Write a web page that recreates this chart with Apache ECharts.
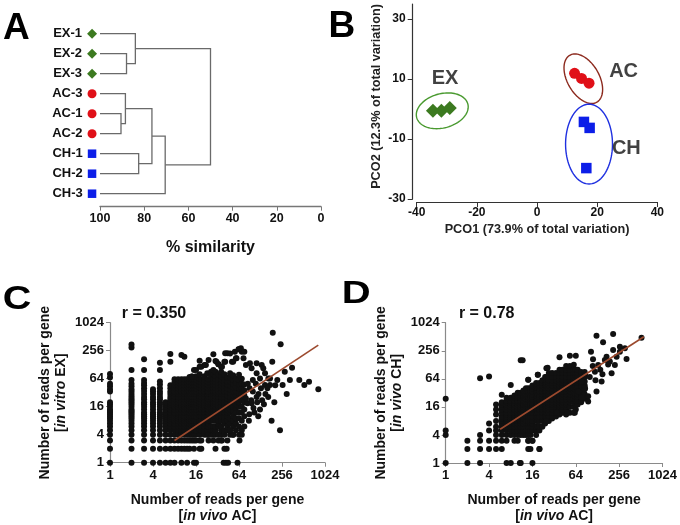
<!DOCTYPE html>
<html>
<head>
<meta charset="utf-8">
<script src="https://cdn.jsdelivr.net/npm/echarts@6/dist/echarts.min.js"></script>
<style>html,body{margin:0;padding:0;background:#fff}#c{width:680px;height:525px}</style>
</head>
<body>
<div id="c"></div>
<script>
// ---------- Panel A: dendrogram ----------
const leafNames = ['EX-1','EX-2','EX-3','AC-3','AC-1','AC-2','CH-1','CH-2','CH-3'];
const leafGroups = ['EX','EX','EX','AC','AC','AC','CH','CH','CH'];
// merges: [nodeA, nodeB, % similarity]; leaves 0-8, merged nodes 9+
const merges = [[1,2,88],[0,9,84],[4,5,90.5],[3,11,88.5],[6,7,82.5],[12,13,76.5],[14,8,70.5],[10,15,50]];
const leafMarkX = 103.6;

// ---------- Panel B: PCO ----------
const pcoEX = [[-34.6,-0.6],[-31.8,-0.6],[-29.0,0.3]];
const pcoAC = [[12.5,11.9],[14.8,10.2],[17.3,8.6]];
const pcoCH = [[15.6,-4.3],[17.5,-6.3],[16.4,-19.7]];
const pcoLabels = [['EX',-30.6,10.1],['AC',28.8,12.4],['CH',29.7,-13.1]];
// ellipse: [cx, cy, semi-axis a, semi-axis b, angle deg]
const pcoEllipses = [[-31.5,-0.6,8.8,5.7,15],[15.4,10.1,9,5.3,-60],[17.3,-11.7,7.8,13.3,0]];

// ---------- Panel C: in vivo AC vs in vitro EX ----------
const cCols = [
 [1,[1,2,3,4,5,6,7,8,9,10,11,12,13,14,16,18,20,34,38,44,50,68,81]],
 [2,[1,2,3,4,5,6,7,8,9,10,11,12,13,14,16,18,20,22,24,27,30,34,38,44,50,60,98,300,350]],
 [3,[1,2,3,4,5,6,7,8,9,10,11,12,14,16,18,20,23,26,30,35,40,46,52,60,98,167]],
 [4,[1,2,3,4,5,6,7,8,9,10,11,12,14,16,18,20,23,26,30,34,38]],
 [5,[1,2,3,4,5,6,7,8,9,10,11,12,14,16,18,20,23,26,30,34,40,48,56,98,141]],
 [6,[1,2,3,4,5,6,7,8,9,10,11,12,14,16,18,20]],
 [7,[1,2,3,4,5,6,7,8,9,10,11,12,14,16,18,20,23,26,30,34,40,46,148,217]],
 [8,[1,2,3,4,5,6,7,8,9,10,11,12,14,16,18,20,23,26,30,34,40,46,54,62]],
 [9,[2,3,4,5,6,7,8,9,10,11,12,14,16,18,20,23,26,30,34,40,46,54,62]],
 [10,[1,2,3,4,5,6,7,8,9,10,11,12,14,16,18,20,23,26,30,34,40,46,54,62,207]],
 [11,[2,3,4,5,6,7,8,9,10,12,14,16,18,20,23,26,30,34,40,46,54,62,190]],
 [12,[1,2,3,4,5,6,7,8,9,10,12,14,16,18,20,23,26,30,34,40,46,54,62]],
 [13,[2,3,4,5,6,7,8,9,10,12,14,16,18,20,23,26,30,34,40,46,54,62,70]],
 [14,[3,4,5,6,7,8,10,12,14,16,18,20,23,26,30,34,40,46,54,62,71]],
 [15,[1,2,3,4,5,6,7,8,10,12,14,16,18,20,23,26,30,34,40,46,54,62,98]],
 [16,[1,3,4,5,6,7,8,10,12,14,16,18,20,23,26,30,34,40,46,54,62,72]],
 [18,[2,3,4,5,6,7,8,10,12,14,16,18,20,23,26,30,34,40,46,54,62,80,156]],
 [19,[2,3,5,6,8,10,12,14,16,18,20,23,26,30,34,40,46,54,62,116]],
 [21,[4,5,6,7,8,10,12,14,16,18,20,23,26,30,34,40,46,54,62,72,126]],
 [23,[4,5,6,8,10,12,14,16,18,20,23,26,30,34,40,46,54,62,84]],
 [24,[3,4,6,7,8,10,12,14,16,18,20,23,26,30,34,40,46,54,62,162]],
 [26,[4,5,6,8,10,12,14,16,18,20,23,26,30,34,40,46,54,62,74,90]],
 [28,[3,4,5,6,8,10,12,14,16,18,20,23,26,30,34,40,46,54,62,80,98,214]],
 [30,[4,5,6,8,10,12,14,16,18,20,23,26,30,34,40,46,54,62,72,90,154]],
 [33,[3,4,6,7,8,10,12,14,16,18,20,23,26,30,34,40,46,54,62,80,131]],
 [36,[3,4,5,6,8,10,12,14,16,20,23,26,30,34,40,46,54,62,72,90,116]],
 [40,[2,4,5,7,8,10,12,14,16,20,23,26,30,34,40,46,54,62,80,148]],
 [44,[3,5,6,8,10,12,14,16,20,24,28,34,40,48,56,68,225]],
 [48,[4,5,7,9,12,14,18,22,26,32,38,46,56,68,84]],
 [53,[4,6,8,10,13,16,20,24,28,34,42,50,60,76,148]],
 [58,[5,7,9,12,15,18,22,28,34,42,52,64,176]],
 [64,[4,6,9,12,16,20,26,32,40,48,60,78,275]],
 [70,[5,8,12,16,22,30,40,50,64,244]],
 [76,[6,10,14,20,28,36,48]]
];
const cSparse = [[39,1],[42,1],[45,1],[61,1],[43,2],[30,2],[37,3],[65,3],[70,4],[53,4],[48,5],
 [190,624],[245,352],[826,38],[447,60],[526,47],[612,55],[354,110],[298,30],[240,5],[183,8],[187,148],
 [261,47],[206,46],[174,47],[148,47],[133,126],[113,137],[140,107],[174,65],[165,65],[126,65],[164,26],
 [113,26],[143,18],[126,14],[102,15],[119,10],[89,11],[96,19],[84,19],[80,24],[74,29],[148,84],[113,84],
 [80,126],[91,137],[96,107],[59,176],[74,176],[68,288],[76,243],[41,225],[41,148],[31,148],[51,148],
 [56,244],[63,275],[48,224],[33,131],[37,116],[22,126],[14,71],[16,98],[18,116],
 [90,40],[100,34],[110,50],[120,30],[95,22],[105,12],[88,8],[130,40],[100,60],[85,50],[115,20],
 [150,30],[160,40],[135,22],[200,20],[220,60],[280,90],[330,60]];
const trendC = [[8,3],[825,338]];

// ---------- Panel D: in vivo AC vs in vivo CH ----------
const dCols = [
 [1,[1,4,5,24]],
 [2,[1,2,3]],
 [3,[1,2,3,4,66]],
 [4,[2,3,5,7,72]],
 [5,[2,3,4,5,6,8,11,14,18]],
 [6,[2,3,4,5,6,7,8,9,10,12,14,16,18,20,29]],
 [7,[1,3,4,5,6,7,8,9,10,11,12,14,16,18,20,22,25]],
 [8,[1,4,5,6,7,8,9,10,11,12,14,16,18,20,22,25,47]],
 [9,[3,4,5,6,7,8,9,10,11,12,14,16,18,20,22,25,28]],
 [10,[3,4,5,6,7,8,9,10,11,12,14,16,18,20,22,25,28,32]],
 [11,[1,4,5,6,7,8,9,10,12,14,16,18,20,22,25,28,32,160]],
 [12,[4,5,6,7,8,9,10,12,14,16,18,20,22,25,28,32,36]],
 [13,[4,5,6,7,8,10,12,14,16,18,20,23,26,30,34,40]],
 [14,[2,3,4,5,6,7,8,10,12,14,16,18,20,23,26,30,34,40,61]],
 [15,[4,5,6,7,8,10,12,14,16,18,20,23,26,30,34,40]],
 [16,[1,3,5,6,7,8,10,12,14,16,18,20,23,26,30,34,40,46]],
 [18,[4,5,6,8,10,12,14,16,18,20,23,26,30,34,40,46,52]],
 [19,[6,8,10,12,14,16,18,20,23,26,30,34,40,46,78]],
 [20,[2,5,6,8,10,12,14,16,18,20,23,26,30,34,40,46,52]],
 [22,[6,8,10,12,14,16,18,20,23,26,30,34,40,46,52,60]],
 [24,[7,8,10,12,14,16,18,20,23,26,30,34,40,46,52,60,70]],
 [25,[8,10,12,14,16,18,20,23,26,30,34,40,46,52,60,70,108]],
 [27,[8,10,12,14,16,18,20,23,26,30,34,40,46,52,60,70,85]],
 [30,[9,10,12,14,16,18,20,23,26,30,34,40,46,52,60,70,85]],
 [34,[10,12,14,16,18,20,23,26,30,34,40,46,52,60,70,85]],
 [38,[11,12,14,16,18,20,23,26,30,34,40,46,52,60,70,85,100,186]],
 [42,[12,14,16,18,20,23,26,30,34,40,46,52,60,70,85,100]],
 [47,[11,14,16,18,20,23,26,30,34,40,46,52,60,70,85,100,120]],
 [53,[12,16,20,23,26,30,34,40,46,52,60,70,85,100,120,201]],
 [60,[12,16,20,24,28,34,40,46,52,60,70,85,100,128]],
 [64,[14,18,22,26,30,36,44,52,60,72,85,100,201]],
 [68,[18,22,26,30,36,44,52,60,72,85,100]],
 [76,[20,25,30,36,44,52,62,75,90]],
 [85,[24,30,38,46,56,70,90]]
];
const dSparse = [[124,540],[211,587],[523,488],[153,390],[262,313],[307,290],[211,267],[262,245],[236,191],
 [190,150],[171,191],[162,163],[324,171],[223,127],[201,84],[146,56],[118,91],[111,169],[131,127],[104,245],
 [95,27],[124,34],[95,21],[86,78],[77,56],[69,34],[86,40],[77,25],[26,111],[35,12],[49,12],[62,12],[25,8],
 [11.7,160],[19,78],[14,61],[15,2],[20,2],[14,3],[16,3],[10.7,1],[110,120],[140,100],[180,130],[100,70],
 [120,60],[150,80]];
const trendD = [[5.7,5.3],[564,512]];

// ---------- build ----------
const FF = '"Liberation Sans", Arial, sans-serif';
const nodes = leafNames.map((n,i)=>({y:i,h:100}));
const dendroData = merges.map(([a,b,h])=>{
  const A = nodes[a], B = nodes[b];
  nodes.push({y:(A.y+B.y)/2, h:h});
  return [h, A.y, A.h, B.y, B.h];
});
function flat(cols, sparse){
  const out=[]; cols.forEach(([x,ys])=>ys.forEach(y=>out.push([x,y])));
  sparse.forEach(p=>out.push(p)); return out;
}
const cData = flat(cCols, cSparse), dData = flat(dCols, dSparse);

const groupStyle = {
  EX:{symbol:'diamond', color:'#3c7a20'},
  AC:{symbol:'circle', color:'#e01018'},
  CH:{symbol:'rect', color:'#0c1ee8'}
};
const ellColors = ['#4a9a30','#8c2a1e','#1f30e0'];

function leafSeries(g, size){
  return {
    type:'scatter', xAxisIndex:0, yAxisIndex:0, clip:false, silent:true,
    symbol:groupStyle[g].symbol, symbolSize:size,
    itemStyle:{color:groupStyle[g].color, opacity:1},
    label:{show:true, position:'left', distance:5, formatter:'{b}', color:'#111',
      fontFamily:FF, fontWeight:'bold', fontSize:13},
    data: leafNames.map((n,i)=>({name:n, value:[leafMarkX,i]})).filter((d,i)=>leafGroups[i]===g)
  };
}
const logAxisCommon = (grid)=>({
  gridIndex:grid, type:'log', logBase:4, min:1, max:1024,
  axisLine:{show:true, onZero:false, lineStyle:{color:'#8a8a8a', width:1.2}},
  axisTick:{show:true, length:4, lineStyle:{color:'#8a8a8a'}},
  axisLabel:{margin:6, color:'#111', fontFamily:FF, fontWeight:'bold', fontSize:13,
    formatter:v=>String(Math.round(v))},
  splitLine:{show:false}
});
const nameStyle = {fontFamily:FF, fontWeight:'bold', fontSize:14, color:'#111', lineHeight:16,
  rich:{it:{fontFamily:FF, fontWeight:'bold', fontStyle:'italic', fontSize:14, color:'#111', lineHeight:16}}};

const option = {
  animation:false,
  backgroundColor:'#fff',
  grid:[
    {left:100, top:20.7, width:221, height:186},
    {left:416.7, top:4, width:240.6, height:195},
    {left:110, top:322.7, width:215, height:140},
    {left:445.7, top:322.7, width:217, height:140.6}
  ],
  xAxis:[
    {gridIndex:0, type:'value', min:0, max:100, interval:20, inverse:true,
     axisLine:{show:true, onZero:false, lineStyle:{color:'#777', width:1.3}},
     axisTick:{show:true, length:4, lineStyle:{color:'#777'}},
     axisLabel:{margin:5, color:'#111', fontFamily:FF, fontWeight:'bold', fontSize:12.5},
     splitLine:{show:false},
     name:'% similarity', nameLocation:'middle', nameGap:33,
     nameTextStyle:{fontFamily:FF, fontWeight:'bold', fontSize:16, color:'#111'}},
    {gridIndex:1, type:'value', min:-40, max:40, interval:20, offset:3,
     axisLine:{show:true, onZero:false, lineStyle:{color:'#333', width:1.2}},
     axisTick:{show:true, length:5, lineStyle:{color:'#333'}},
     axisLabel:{margin:5, color:'#111', fontFamily:FF, fontWeight:'bold', fontSize:12},
     splitLine:{show:false},
     name:'PCO1 (73.9% of total variation)', nameLocation:'middle', nameGap:21,
     nameTextStyle:{fontFamily:FF, fontWeight:'bold', fontSize:12.7, color:'#222'}},
    Object.assign(logAxisCommon(2), {name:'Number of reads per gene\n[{it|in vivo} AC]',
      nameLocation:'middle', nameGap:29, nameTextStyle:nameStyle}),
    Object.assign(logAxisCommon(3), {name:'Number of reads per gene\n[{it|in vivo} AC]',
      nameLocation:'middle', nameGap:29, nameTextStyle:nameStyle})
  ],
  yAxis:[
    {gridIndex:0, type:'value', min:-0.65, max:8.65, inverse:true, show:false},
    {gridIndex:1, type:'value', min:-30, max:35, interval:20, offset:4,
     axisLine:{show:true, onZero:false, lineStyle:{color:'#333', width:1.2}},
     axisTick:{show:true, length:5, lineStyle:{color:'#333'}, customValues:[-30,-10,10,30]},
     axisLabel:{margin:7, color:'#111', fontFamily:FF, fontWeight:'bold', fontSize:12,
       customValues:[-30,-10,10,30]},
     splitLine:{show:false},
     name:'PCO2 (12.3% of total variation)', nameLocation:'middle', nameGap:30, nameRotate:90,
     nameTextStyle:{fontFamily:FF, fontWeight:'bold', fontSize:12.7, color:'#222', padding:[0,0,0,10]}},
    Object.assign(logAxisCommon(2), {name:'Number of reads per gene\n[{it|in vitro} EX]',
      nameLocation:'middle', nameGap:41, nameRotate:90, nameTextStyle:nameStyle}),
    Object.assign(logAxisCommon(3), {name:'Number of reads per gene\n[{it|in vivo} CH]',
      nameLocation:'middle', nameGap:41, nameRotate:90, nameTextStyle:nameStyle})
  ],
  graphic:[
    {type:'text', x:3, y:28.3, style:{text:'A', fontSize:37, fontWeight:'bold', fontFamily:FF, fill:'#000',
      verticalAlign:'middle', textVerticalAlign:'middle'}},
    {type:'text', x:328.5, y:26.7, style:{text:'B', fontSize:37, fontWeight:'bold', fontFamily:FF, fill:'#000',
      verticalAlign:'middle', textVerticalAlign:'middle'}},
    {type:'text', x:2.7, y:300, scaleX:1.2, style:{text:'C', fontSize:33, fontWeight:'bold', fontFamily:FF, fill:'#000',
      verticalAlign:'middle', textVerticalAlign:'middle'}},
    {type:'text', x:341.7, y:294.2, scaleX:1.25, style:{text:'D', fontSize:32, fontWeight:'bold', fontFamily:FF, fill:'#000',
      verticalAlign:'middle', textVerticalAlign:'middle'}},
    {type:'text', x:154, y:314, style:{text:'r = 0.350', fontSize:16, fontWeight:'bold', fontFamily:FF, fill:'#111',
      align:'center', textAlign:'center', verticalAlign:'middle', textVerticalAlign:'middle'}},
    {type:'text', x:486.7, y:314, style:{text:'r = 0.78', fontSize:16, fontWeight:'bold', fontFamily:FF, fill:'#111',
      align:'center', textAlign:'center', verticalAlign:'middle', textVerticalAlign:'middle'}}
  ],
  series:[
    {type:'custom', xAxisIndex:0, yAxisIndex:0, silent:true, data:dendroData,
     renderItem:(params, api)=>{
       const h=api.value(0), ya=api.value(1), ha=api.value(2), yb=api.value(3), hb=api.value(4);
       return {type:'polyline', shape:{points:[api.coord([ha,ya]),api.coord([h,ya]),api.coord([h,yb]),api.coord([hb,yb])]},
         style:{stroke:'#6a6a6a', lineWidth:1.3, fill:null}};
     }},
    leafSeries('EX',10), leafSeries('AC',9), leafSeries('CH',8.5),
    {type:'custom', xAxisIndex:1, yAxisIndex:1, silent:true, clip:false, data:pcoEllipses,
     renderItem:(params, api)=>{
       const c = api.coord([api.value(0), api.value(1)]);
       const s = api.size([api.value(2), api.value(3)]);
       const th = api.value(4)*Math.PI/180, pts=[];
       for(let k=0;k<96;k++){
         const t = k/96*2*Math.PI;
         const ex = s[0]*Math.cos(t), ey = s[1]*Math.sin(t);
         pts.push([c[0]+ex*Math.cos(th)-ey*Math.sin(th), c[1]-(ex*Math.sin(th)+ey*Math.cos(th))]);
       }
       return {type:'polygon', shape:{points:pts}, style:{stroke:ellColors[params.dataIndex], lineWidth:1.4, fill:null}};
     }},
    {type:'scatter', xAxisIndex:1, yAxisIndex:1, symbol:'diamond', symbolSize:14, itemStyle:{color:'#3c7a20', opacity:1}, data:pcoEX, silent:true},
    {type:'scatter', xAxisIndex:1, yAxisIndex:1, symbol:'circle', symbolSize:11, itemStyle:{color:'#e01018', opacity:1}, data:pcoAC, silent:true},
    {type:'scatter', xAxisIndex:1, yAxisIndex:1, symbol:'rect', symbolSize:10.5, itemStyle:{color:'#0c1ee8', opacity:1}, data:pcoCH, silent:true},
    {type:'scatter', xAxisIndex:1, yAxisIndex:1, symbolSize:0, silent:true,
     label:{show:true, position:'inside', formatter:'{b}', color:'#111', fontFamily:FF, fontWeight:'bold', fontSize:20},
     data:pcoLabels.map(([n,x,y])=>({name:n, value:[x,y]}))},
    {type:'scatter', xAxisIndex:2, yAxisIndex:2, symbolSize:6, itemStyle:{color:'#111', opacity:1}, data:cData, silent:true, large:false},
    {type:'line', xAxisIndex:2, yAxisIndex:2, data:trendC, symbol:'none', silent:true, z:5,
     lineStyle:{color:'#9c4a2e', width:1.6}},
    {type:'scatter', xAxisIndex:3, yAxisIndex:3, symbolSize:6, itemStyle:{color:'#111', opacity:1}, data:dData, silent:true, large:false},
    {type:'line', xAxisIndex:3, yAxisIndex:3, data:trendD, symbol:'none', silent:true, z:5,
     lineStyle:{color:'#9c4a2e', width:1.6}}
  ]
};
const chart = echarts.init(document.getElementById('c'), null, {renderer:'canvas'});
chart.setOption(option);
</script>
</body>
</html>
